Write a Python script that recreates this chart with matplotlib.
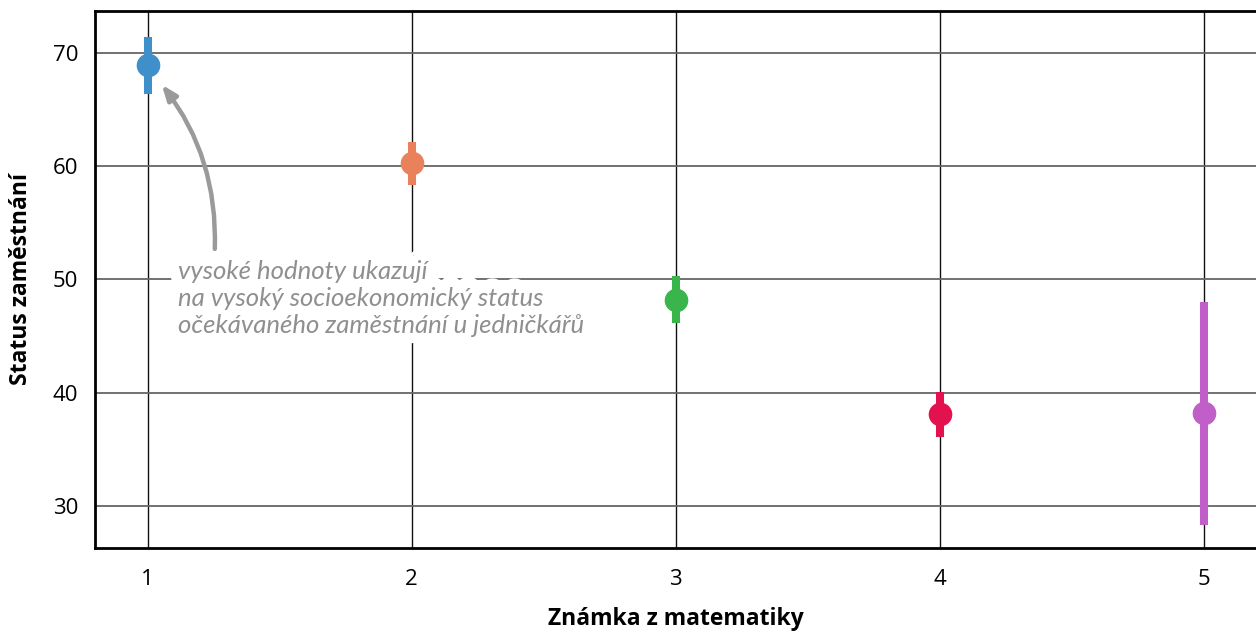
import matplotlib
matplotlib.use("Agg")
import matplotlib.pyplot as plt
import matplotlib.patheffects as pe

# Mean occupational status by maths grade, with confidence intervals
grades = [1, 2, 3, 4, 5]
means = [68.9, 60.3, 48.2, 38.1, 38.2]
lower = [66.4, 58.3, 46.2, 36.1, 28.3]
upper = [71.4, 62.1, 50.3, 40.1, 48.0]
colors = ["#3f8fca", "#e9825b", "#3ab54b", "#e4114f", "#c15fc9"]
xtick_labels = ["1", "2", "3", "4", "5"]
yticks = [30, 40, 50, 60, 70]

plt.rcParams["font.family"] = ["Open Sans", "DejaVu Sans"]

fig = plt.figure(figsize=(12.56, 6.35), dpi=100)
ax = fig.add_axes([0.0756, 0.137, 0.9248, 0.8457])

for g, m, lo, hi, c in zip(grades, means, lower, upper, colors):
    ax.plot([g, g], [lo, hi], color=c, lw=5.8, solid_capstyle="butt", zorder=3)
    ax.plot([g], [m], "o", color=c, markersize=16, zorder=4)

ax.set_xlim(0.8, 5.2)
ax.set_ylim(26.3, 73.7)
ax.set_xticks(grades)
ax.set_xticklabels(xtick_labels)
ax.set_yticks(yticks)
ax.tick_params(axis="both", length=0, labelsize=16)
ax.tick_params(axis="y", pad=12)
ax.tick_params(axis="x", pad=15)

ax.grid(axis="y", color="#666666", lw=1.3, zorder=0)
ax.grid(axis="x", color="#111111", lw=1.0, zorder=0)
ax.set_axisbelow(True)

for side in ["left", "bottom", "top"]:
    ax.spines[side].set_linewidth(2)
    ax.spines[side].set_color("black")
ax.spines["right"].set_visible(False)

ax.set_xlabel("Známka z matematiky", fontsize=16.5, fontweight="bold", labelpad=12)
ax.set_ylabel("Status zaměstnání", fontsize=16.5, fontweight="bold", labelpad=14)

# Note with a hand-drawn style arrow pointing to the first grade
note = ("vysoké hodnoty ukazují\n"
        "na vysoký socioekonomický status\n"
        "očekávaného zaměstnání u jedničkářů")
note_kw = dict(ha="left", va="top", fontsize=18.5,
               fontfamily=["Lato", "DejaVu Sans"], fontstyle="italic", linespacing=1.2)
# white halo underneath so grid lines stop around the glyphs
ax.text(1.114, 51.7, note, color="white", zorder=5,
        path_effects=[pe.withStroke(linewidth=15, foreground="white")], **note_kw)
ax.text(1.114, 51.7, note, color="#8f8f8f", zorder=6, **note_kw)

ax.annotate("", xy=(1.053, 67.2), xytext=(1.254, 52.7),
            arrowprops=dict(arrowstyle="-|>,head_length=0.9,head_width=0.35",
                            color="#9a9a9a", lw=3.2,
                            connectionstyle="arc3,rad=0.18",
                            shrinkA=0, shrinkB=0),
            zorder=7)

fig.savefig("out.png", dpi=100)
